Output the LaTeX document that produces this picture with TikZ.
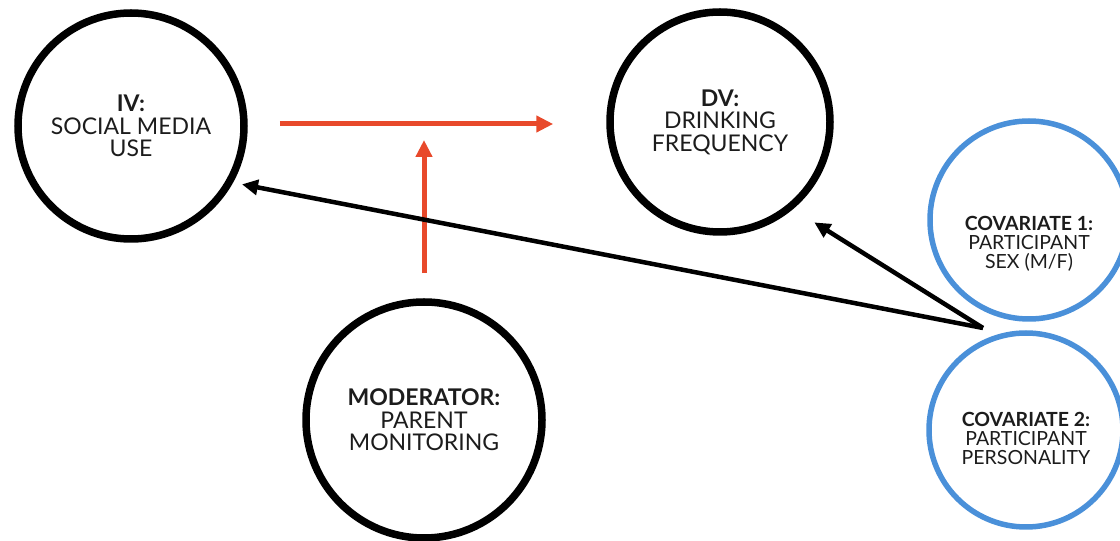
\documentclass[tikz,border=0pt]{standalone}
\usepackage{fontspec}
\setmainfont{Lato}
\usepackage{tikz}
\usetikzlibrary{arrows.meta}
\usetikzlibrary{calc}

\definecolor{modred}{HTML}{E8492B}
\definecolor{covblue}{HTML}{4A90D9}
\definecolor{ink}{HTML}{1C1C1C}

\begin{document}
\begin{tikzpicture}[ x = 1pt, y = 1pt
                   , align = center
                   , text = ink
                   , font = \fontsize{23}{22.5}\selectfont
                   , every node/.style = { circle
                                        , draw = black
                                        , line width = 7.5pt
                                        , inner sep = 0pt }
                   ]
  \useasboundingbox (0,0) rectangle (1120,541);
  \clip (0,0) rectangle (1120,541);

  %%
  %% Nodes
  %%
  \tikzset{ var/.style={minimum size=#1}
          , covar/.style={draw=covblue, line width=5.5pt, minimum size=#1}
          , covtext/.style={draw=none, font=\fontsize{19.5}{19}\selectfont}
          }

  \node (iv)   [var=226pt] at (131,415) {\textbf{IV:}\\ SOCIAL MEDIA\\ USE};
  \node (dv)   [var=220pt] at (720,419) {\textbf{DV:}\\ DRINKING\\ FREQUENCY};
  \node (mod)  [var=236pt] at (424,121) {\textbf{MODERATOR:}\\ PARENT\\ MONITORING};
  \node (cov1) [covar=198pt, label={[covtext, yshift=-24pt]center:{\textbf{COVARIATE 1:}\\ PARTICIPANT\\ SEX (M/F)}}] at (1029,321) {};
  \node (cov2) [covar=194pt, label={[covtext, yshift=-8pt]center:{\textbf{COVARIATE 2:}\\ PARTICIPANT\\ PERSONALITY}}] at (1026,111) {};

  \coordinate (join) at (424,417);
  \coordinate (meet) at (983,213);

  \tikzset{ redarrow/.style={draw=modred, line width=5pt, -{Triangle[length=17pt, width=16pt]}}
          , blackarrow/.style={draw=black, line width=4.5pt, -{Triangle[length=16pt, width=15pt]}}
          }
  %%
  %% Relationship between nodes (arrows)
  %%
  % Moderated path.
  \draw[redarrow, shorten <=32pt, shorten >=53pt] (iv.east |- join) -- (dv.west |- join);
  \draw[redarrow, shorten <=25pt, shorten >=16pt] (mod.north) -- (join);
  % Covariate paths.
  \draw[blackarrow, shorten >=9pt] (meet) -- (iv.-29);
  \draw[blackarrow, shorten >=25pt] (meet) -- (dv.-50);
\end{tikzpicture}
\end{document}
